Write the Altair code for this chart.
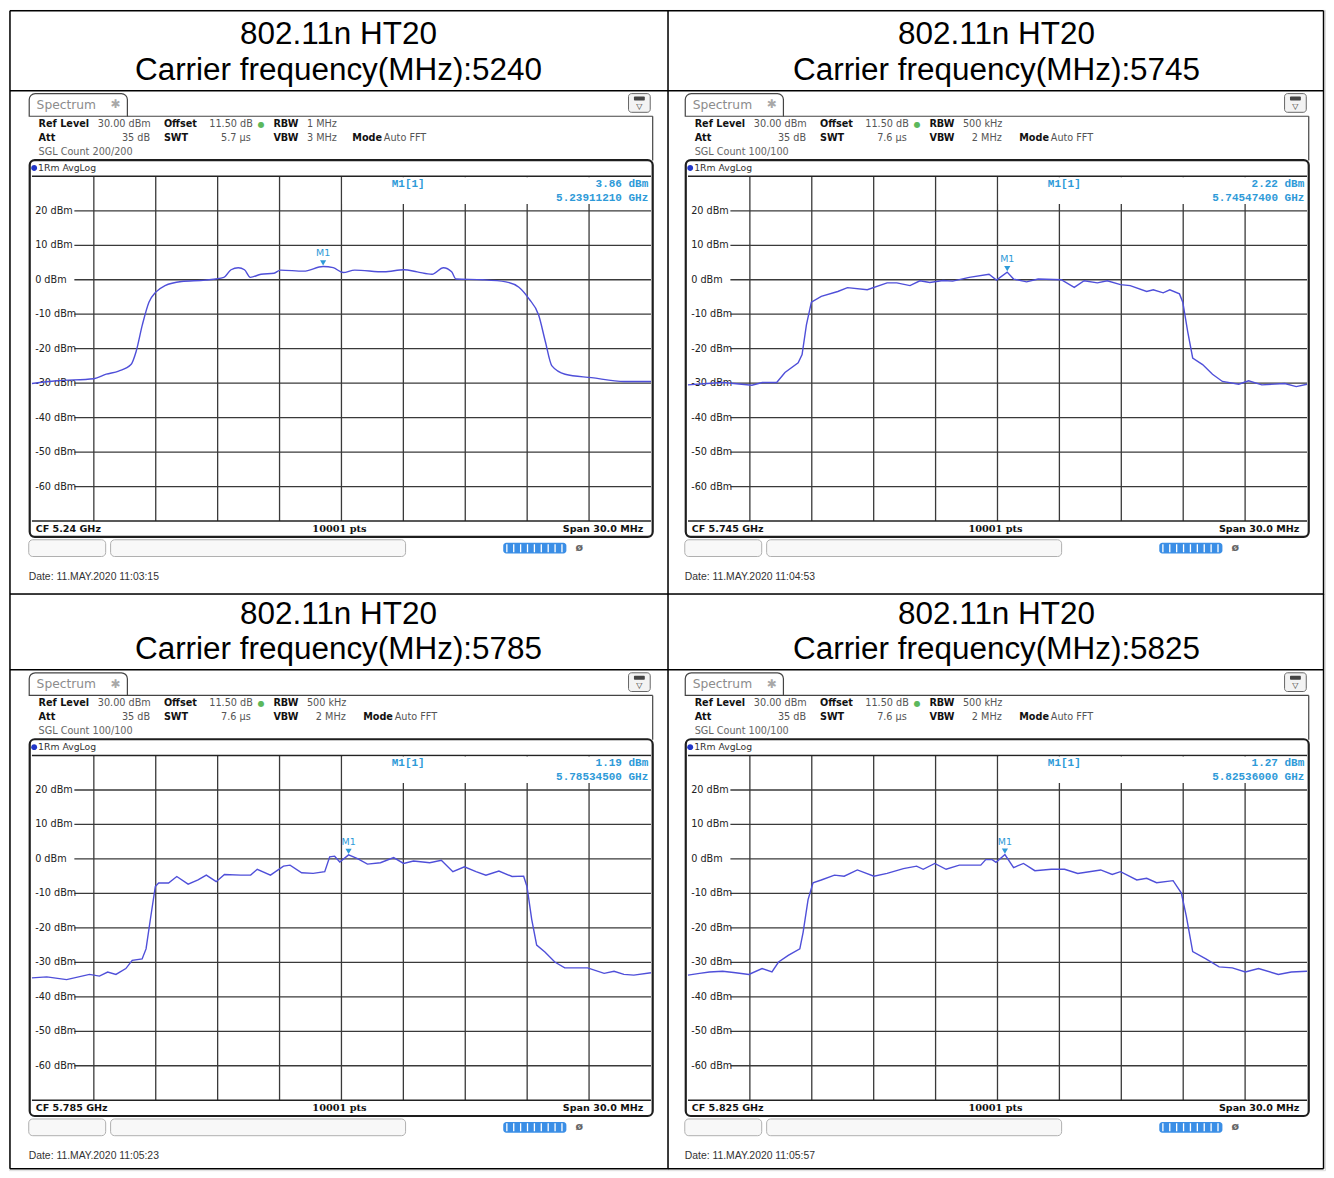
import altair as alt
import pandas as pd

# ------------------------------------------------------------------ data
TITLE_LINE1 = "802.11n HT20"
TITLE_LINE2 = ["Carrier frequency(MHz):5240", "Carrier frequency(MHz):5745",
               "Carrier frequency(MHz):5785", "Carrier frequency(MHz):5825"]

# frequency offset from the centre frequency (MHz) and trace level (dBm)
P1_FREQ = [-15.0, -13.8, -12.0, -11.4, -10.8, -10.2, -9.95, -9.65, -9.33, -9.0, -8.55,
           -7.75, -6.6, -5.7, -5.35, -5.0, -4.7, -4.42, -3.9, -3.27, -2.95, -1.83, -0.89,
           -0.4, 0.08, 0.64, 2.07, 3.03, 3.67, 4.39, 4.94, 5.34, 5.55, 6.85, 7.97, 8.6,
           9.08, 9.56, 9.88, 10.2, 10.84, 12.12, 13.71, 15.0]
P1_DBM = [-30.1, -29.3, -28.7, -27.4, -26.5, -24.6, -20.8, -13.1, -6.5, -3.6, -1.7,
          -0.5, -0.1, 0.7, 2.9, 3.5, 2.9, 0.7, 1.6, 1.9, 2.8, 2.5, 3.86,
          3.5, 2.1, 2.8, 2.3, 2.9, 2.3, 1.6, 3.5, 2.3, 0.2, 0.0, -0.6, -2.2,
          -5.5, -10.3, -17.9, -25.0, -27.4, -28.4, -29.5, -29.5]

P2_FREQ = [-15.0, -14.1, -13.3, -12.4, -11.9, -11.4, -10.7, -10.3, -9.66, -9.47, -9.26,
           -9.02, -8.54, -7.74, -7.27, -6.31, -5.35, -4.88, -4.24, -3.76, -3.28, -2.64,
           -2.17, -1.37, -0.41, -0.05, 0.47, 0.78, 1.41, 1.97, 3.09, 3.72, 4.2, 4.84,
           5.32, 5.96, 6.43, 7.23, 7.55, 8.03, 8.35, 8.82, 8.98, 9.22, 9.46, 9.94,
           10.42, 10.9, 11.69, 12.17, 12.81, 13.92, 14.48, 15.0]
P2_DBM = [-30.5, -30.1, -29.8, -30.3, -30.6, -29.8, -29.8, -26.9, -24.1, -21.7, -13.1,
          -6.5, -4.8, -3.4, -2.3, -2.9, -0.9, -0.9, -1.7, -0.3, -0.8, -0.2,
          -0.4, 0.7, 1.6, -0.1, 2.22, 0.2, -0.6, 0.2, 0.0, -2.2, -0.3, -0.9,
          -0.3, -1.4, -1.7, -3.4, -2.9, -3.8, -2.9, -4.1, -6.5, -15.1, -22.7, -24.6,
          -27.4, -29.5, -30.3, -29.3, -30.5, -30.1, -31.0, -30.3]

P3_FREQ = [-15.0, -14.28, -13.32, -12.21, -11.73, -11.33, -10.93, -10.45, -10.14, -9.66,
           -9.47, -9.26, -9.02, -8.86, -8.38, -7.98, -7.43, -6.95, -6.55, -6.07, -5.67,
           -4.88, -4.4, -4.08, -3.44, -2.81, -2.49, -1.93, -1.37, -0.81, -0.57, -0.33,
           -0.08, 0.345, 0.78, 1.26, 1.89, 2.53, 3.01, 3.49, 4.28, 4.84, 5.4, 5.96, 6.52,
           7.0, 7.63, 8.27, 8.83, 8.99, 9.22, 9.46, 9.86, 10.34, 10.82, 11.46, 11.93,
           12.73, 13.21, 13.69, 14.17, 15.0]
P3_DBM = [-34.5, -34.2, -35.0, -33.5, -34.0, -32.8, -33.5, -31.8, -29.4, -29.0,
          -26.1, -17.5, -8.0, -7.0, -7.0, -5.1, -7.3, -6.1, -4.7, -6.6, -4.5,
          -4.7, -4.7, -3.0, -4.7, -2.1, -1.8, -4.0, -4.2, -3.7, 0.6, 0.8,
          -0.9, 1.19, 0.1, -1.5, -1.1, 0.4, -1.3, -0.6, -1.1, -0.4, -3.7, -2.3, -3.7,
          -4.7, -3.5, -5.1, -5.0, -8.0, -17.5, -25.0, -27.0, -29.9, -31.6, -31.6, -31.6,
          -33.2, -32.6, -33.5, -33.7, -33.0]

P4_FREQ = [-15.0, -14.44, -13.96, -13.32, -12.69, -12.05, -11.41, -10.93, -10.61, -10.14,
           -9.58, -9.42, -9.18, -8.94, -8.54, -7.9, -7.43, -6.79, -5.99, -5.35, -4.56,
           -3.92, -3.6, -3.04, -2.49, -1.85, -1.21, -0.81, -0.57, -0.26, -0.07, 0.36,
           0.78, 1.26, 1.81, 2.61, 3.25, 3.89, 5.0, 5.56, 5.96, 6.75, 7.23, 7.71, 8.51,
           8.91, 9.15, 9.46, 10.1, 10.74, 11.38, 12.01, 12.65, 13.61, 14.24, 15.0]
P4_DBM = [-33.7, -33.2, -32.8, -32.6, -33.0, -33.5, -31.8, -32.8, -29.9, -28.0,
          -26.1, -21.3, -11.8, -6.9, -6.1, -4.7, -5.0, -3.2, -5.0, -4.2, -2.8,
          -2.1, -3.0, -1.3, -3.0, -1.8, -1.8, -1.8, -0.2, -0.2, -1.0, 1.27,
          -2.5, -1.3, -3.4, -3.0, -3.0, -4.2, -3.2, -4.5, -3.7, -6.1, -5.6, -6.9, -6.3,
          -9.9, -16.6, -26.9, -29.0, -31.3, -31.6, -32.8, -31.8, -33.5, -32.8, -32.6]

MARKER_FREQ = [-0.888, 0.474, 0.345, 0.36]
MARKER_DBM = [3.86, 2.22, 1.19, 1.27]
MARKER_LEVEL = ["3.86 dBm", "2.22 dBm", "1.19 dBm", "1.27 dBm"]
MARKER_GHZ = ["5.23911210 GHz", "5.74547400 GHz", "5.78534500 GHz", "5.82536000 GHz"]
CF_LABELS = ["CF 5.24 GHz", "CF 5.745 GHz", "CF 5.785 GHz", "CF 5.825 GHz"]
RBW = ["1 MHz", "500 kHz", "500 kHz", "500 kHz"]
VBW = ["3 MHz", "2 MHz", "2 MHz", "2 MHz"]
SWT = ["5.7 \u00b5s", "7.6 \u00b5s", "7.6 \u00b5s", "7.6 \u00b5s"]
SGL = ["SGL Count 200/200", "SGL Count 100/100", "SGL Count 100/100", "SGL Count 100/100"]
DATES = ["Date: 11.MAY.2020  11:03:15", "Date: 11.MAY.2020  11:04:53",
         "Date: 11.MAY.2020  11:05:23", "Date: 11.MAY.2020  11:05:57"]

X_GRID = [-12, -9, -6, -3, 0, 3, 6, 9, 12]
Y_TICKS = [20, 10, 0, -10, -20, -30, -40, -50, -60]
Y_LABELS = ["20 dBm", "10 dBm", "0 dBm", "-10 dBm", "-20 dBm", "-30 dBm",
            "-40 dBm", "-50 dBm", "-60 dBm"]
Y_EDGES = [30, -70]
X_SPAN = [-15, 15]

TRACES = [(P1_FREQ, P1_DBM), (P2_FREQ, P2_DBM), (P3_FREQ, P3_DBM), (P4_FREQ, P4_DBM)]

# ------------------------------------------------------------------ style / layout
TRACE_COLOR = "#4f4fd9"
MARK_COLOR = "#2e9ad8"
GRID_COLOR = "#3a3a3a"

SX = 1318 / 1334
SY = 1162 / 1178
COL_EDGES = [0, 668, 1334]
ROW_EDGES = [0, 593, 1178]
PANEL_DX = [0, 665]
PANEL_DY = [0, 588]
TITLE_Y = [(26, 62), (21, 57)]
TITLE_RULE = [82, 670]
GRID_X0, GRID_X1, GRID_YT, GRID_YB = 23.25, 650.75, 169, 519

BLANK = alt.Data(values=[{"k": 0}])


def build_cell(i):
    col, row = i % 2, i // 2
    c0, c1 = COL_EDGES[col], COL_EDGES[col + 1]
    r0, r1 = ROW_EDGES[row], ROW_EDGES[row + 1]
    W = (c1 - c0) * SX
    H = (r1 - r0) * SY
    dx, dy = PANEL_DX[col], PANEL_DY[row]

    def X(g):  # panel-relative -> local px
        return (g + dx - c0) * SX

    def Y(g):
        return (g + dy - r0) * SY

    def GX(g):  # global -> local px
        return (g - c0) * SX

    def GY(g):
        return (g - r0) * SY

    layers = []

    def text(s, x, y, size=9.7, color="#555", weight="normal", font="DejaVu Sans", align="left"):
        layers.append(alt.Chart(BLANK).mark_text(
            text=s, fontSize=size, color=color, fontWeight=weight, font=font,
            align=align, baseline="middle").encode(x=alt.value(x), y=alt.value(y)))

    def rule(x1, y1, x2, y2, color="#000", width=1.5, dash=None):
        kw = dict(color=color, strokeWidth=width)
        if dash:
            kw["strokeDash"] = dash
        layers.append(alt.Chart(BLANK).mark_rule(**kw).encode(
            x=alt.value(x1), y=alt.value(y1), x2=alt.value(x2), y2=alt.value(y2)))

    def rect(x1, y1, x2, y2, fill="white", stroke=None, width=1.0, radius=0, opacity=1, **extra):
        kw = dict(fill=fill, fillOpacity=opacity, cornerRadius=radius)
        if stroke:
            kw.update(stroke=stroke, strokeWidth=width)
        kw.update(extra)
        layers.append(alt.Chart(BLANK).mark_rect(**kw).encode(
            x=alt.value(x1), x2=alt.value(x2), y=alt.value(y1), y2=alt.value(y2)))

    # ---- table cell: titles + borders
    cx = (c0 + c1) / 2
    ty1, ty2 = TITLE_Y[row]
    text(TITLE_LINE1, GX(cx), GY(r0 + ty1), size=31.5, color="#000", font="Liberation Sans", align="center")
    text(TITLE_LINE2[i], GX(cx), GY(r0 + ty2), size=31.5, color="#000", font="Liberation Sans", align="center")
    top = GY(r0 + 1) if row == 0 else GY(r0)
    bot = GY(1176.5) if row == 1 else H
    left = GX(1) if col == 0 else GX(c0)
    right = GX(1332.5) if col == 1 else W
    rule(left, top, right, top)
    rule(left, top, left, bot)
    rule(left, GY(TITLE_RULE[row]), right, GY(TITLE_RULE[row]))
    if col == 1:
        rule(right, top, right, bot)
    if row == 1:
        rule(left, GY(1176.5), right, GY(1176.5))

    # ---- instrument window chrome
    rect(X(20.5), Y(85), X(120), Y(108), fill="white", stroke="#444", width=1.2,
         cornerRadiusTopLeft=6, cornerRadiusTopRight=6)
    rule(X(120), Y(108), X(652.5), Y(108), color="#444", width=1.2)
    rule(X(652.5), Y(108), X(652.5), Y(153), color="#444", width=1.2)
    text("Spectrum", X(28), Y(96.5), size=12.3, color="#8c8c8c")
    text("\u2731", X(103), Y(96), size=12, color="#a8a8a8")
    rect(X(628), Y(85), X(650), Y(104), fill="#f3f3f3", stroke="#666", width=1, radius=3)
    rect(X(633.5), Y(88), X(644.5), Y(92), fill="#444", radius=1)
    text("\u25bd", X(639), Y(98.5), size=8, color="#333", align="center")

    # header lines
    hv = "#555"
    text("Ref Level", X(30), Y(116), color="#111", weight="bold")
    text("30.00 dBm", X(90), Y(116), color=hv)
    text("Offset", X(157), Y(116), color="#111", weight="bold")
    text("11.50 dB", X(203), Y(116), color=hv)
    text("\u25cf", X(255.5), Y(116.5), size=8, color="#5cb85c", align="center")
    text("RBW", X(268), Y(116), color="#111", weight="bold")
    text(RBW[i], X(302), Y(116), color=hv)
    text("Att", X(30), Y(130), color="#111", weight="bold")
    text("35 dB", X(143), Y(130), color=hv, align="right")
    text("SWT", X(157), Y(130), color="#111", weight="bold")
    text(SWT[i], X(215), Y(130), color=hv)
    text("VBW", X(268), Y(130), color="#111", weight="bold")
    text(VBW[i], X(302 if i == 0 else 311), Y(130), color=hv)
    text("Mode", X(348 if i == 0 else 359), Y(130), color="#111", weight="bold")
    text("Auto FFT", X(380 if i == 0 else 391), Y(130), color=hv)
    text(SGL[i], X(30), Y(144), color="#666")

    # ---- scales mapping the trace values into the grid of this cell
    lx0, lx1 = X(GRID_X0), X(GRID_X1)
    k = (X_SPAN[1] - X_SPAN[0]) / (lx1 - lx0)
    xdom = [X_SPAN[0] - lx0 * k, X_SPAN[0] + (W - lx0) * k]
    lyt, lyb = Y(GRID_YT), Y(GRID_YB)
    kd = (Y_EDGES[0] - Y_EDGES[1]) / (lyb - lyt)
    ydom = [Y_EDGES[0] - (H - lyt) * kd, Y_EDGES[0] + lyt * kd]
    xs = alt.Scale(domain=xdom, nice=False, zero=False)
    ys = alt.Scale(domain=ydom, nice=False, zero=False)

    def xenc(field="f"):
        return alt.X(f"{field}:Q", scale=xs, axis=None)

    def yenc(field="dBm"):
        return alt.Y(f"{field}:Q", scale=ys, axis=None)

    # grid
    vgrid = pd.DataFrame({"f": X_GRID, "lo": Y_EDGES[1], "hi": Y_EDGES[0]})
    layers.append(alt.Chart(vgrid).mark_rule(color=GRID_COLOR, strokeWidth=1.3).encode(
        x=xenc(), y=yenc("lo"), y2="hi:Q"))
    hgrid = pd.DataFrame({"dBm": Y_TICKS, "label": Y_LABELS})
    layers.append(alt.Chart(hgrid).mark_rule(color=GRID_COLOR, strokeWidth=1.3).encode(
        y=yenc(), x=alt.value(X(GRID_X0 + 43)), x2=alt.value(lx1)))
    edges = pd.DataFrame({"dBm": Y_EDGES})
    layers.append(alt.Chart(edges).mark_rule(color="#222", strokeWidth=1.5).encode(
        y=yenc(), x=alt.value(lx0), x2=alt.value(lx1)))

    # marker readout area (blanks the grid)
    rect((lx0 + lx1) / 2 + 1.2, lyt + 1, lx1 - 0.5, Y(197), fill="white")

    # trace window frame
    rect(X(21), Y(152.5), X(652.5), Y(535), fill="white", opacity=0, stroke="#1e1e1e",
         width=2.2, radius=5)
    rect(X(22.5), Y(157.5), X(28.5), Y(163.5), fill="#2136c9", radius=3)
    text("1Rm AvgLog", X(29.5), Y(160.5), size=9.3, color="#333")

    # y labels
    layers.append(alt.Chart(hgrid).mark_text(
        align="left", baseline="middle", font="DejaVu Sans", fontSize=9.7, color="#222").encode(
        y=yenc(), x=alt.value(X(26.5)), text="label:N"))

    # marker readout
    text("M1[1]", X(388), Y(177), size=11, color=MARK_COLOR, weight="bold", font="Liberation Mono")
    text(MARKER_LEVEL[i], X(648), Y(177), size=11, color=MARK_COLOR, weight="bold",
         font="Liberation Mono", align="right")
    text(MARKER_GHZ[i], X(648), Y(190.5), size=11, color=MARK_COLOR, weight="bold",
         font="Liberation Mono", align="right")

    # trace
    fr, db = TRACES[i]
    tr = pd.DataFrame({"f": fr, "dBm": db})
    layers.append(alt.Chart(tr).mark_line(
        color=TRACE_COLOR, strokeWidth=1.4,
        interpolate="monotone" if i == 0 else "linear").encode(x=xenc(), y=yenc()))

    # marker M1
    mk = pd.DataFrame({"f": [MARKER_FREQ[i]], "dBm": [MARKER_DBM[i]], "name": ["M1"]})
    layers.append(alt.Chart(mk).mark_point(
        shape="triangle-down", filled=True, size=38, color=MARK_COLOR, opacity=1,
        yOffset=-3.5).encode(x=xenc(), y=yenc()))
    layers.append(alt.Chart(mk).mark_text(
        dy=-13, fontSize=9.5, color=MARK_COLOR, font="DejaVu Sans").encode(
        x=xenc(), y=yenc(), text="name:N"))

    # footer
    text(CF_LABELS[i], X(27), Y(527), size=9.6, color="#111", weight="bold")
    text("10001 pts", X(335), Y(527), size=9.8, color="#111", weight="bold", font="DejaVu Serif",
         align="center")
    text("Span 30.0 MHz", X(643), Y(527), size=9.6, color="#111", weight="bold", align="right")

    # status bar
    rect(X(20), Y(538), X(98), Y(555), fill="#f8f8f8", stroke="#b0b0b0", width=1, radius=4)
    rect(X(103), Y(538), X(402), Y(555), fill="#f8f8f8", stroke="#b0b0b0", width=1, radius=4)
    rect(X(501), Y(541), X(565), Y(552), fill="#3a8ee6", radius=3)
    rule(X(504), Y(546.5), X(563), Y(546.5), color="white", width=8, dash=[1.3, 5.6])
    text("\u00f8", X(578), Y(546), size=11, color="#666", weight="bold", align="center")

    # date
    text(DATES[i], X(20), Y(576), size=10.4, color="#333", font="Liberation Sans")

    return alt.layer(*layers).properties(width=W, height=H)


cells = [build_cell(i) for i in range(4)]

chart = alt.concat(*cells, columns=2, spacing=0, bounds="flush").properties(
    padding=0, background="white"
).configure_view(stroke=None).configure(font="DejaVu Sans")

chart.save("out.html", embed_options={"renderer": "svg", "actions": False})
